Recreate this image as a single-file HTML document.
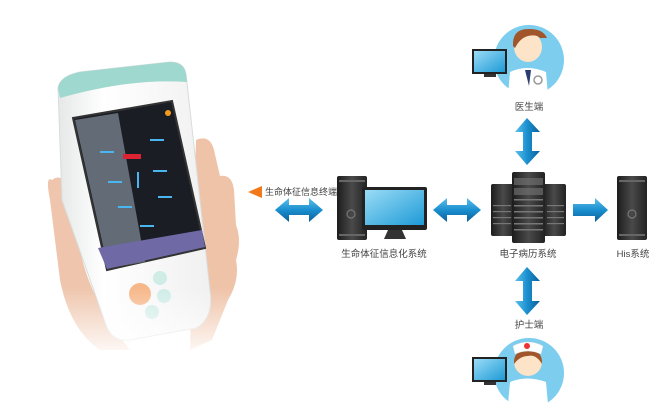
<!DOCTYPE html>
<html><head><meta charset="utf-8"><style>
html,body{margin:0;padding:0;background:#fff;width:656px;height:416px;overflow:hidden}
svg{display:block}
text{font-family:"Liberation Sans","Noto Sans CJK SC",sans-serif;fill:#444;font-size:9.5px}
</style></head><body>
<svg width="656" height="416" viewBox="0 0 656 416" xmlns="http://www.w3.org/2000/svg">
<defs>
<linearGradient id="ag" x1="0" y1="0" x2="0" y2="1"><stop offset="0" stop-color="#5cc0ea"/><stop offset="0.5" stop-color="#1a8fcf"/><stop offset="1" stop-color="#0c5f9a"/></linearGradient>
<linearGradient id="agv" x1="0" y1="0" x2="1" y2="0"><stop offset="0" stop-color="#5cc0ea"/><stop offset="0.5" stop-color="#1a8fcf"/><stop offset="1" stop-color="#0c5f9a"/></linearGradient>
<linearGradient id="tw" x1="0" y1="0" x2="1" y2="0"><stop offset="0" stop-color="#1c1c1c"/><stop offset="0.5" stop-color="#4a4a4a"/><stop offset="1" stop-color="#222"/></linearGradient>
<linearGradient id="scr" x1="0" y1="0" x2="1" y2="1"><stop offset="0" stop-color="#9adcf6"/><stop offset="1" stop-color="#1e9ad6"/></linearGradient>
<linearGradient id="dev" x1="0" y1="0" x2="1" y2="0"><stop offset="0" stop-color="#e6e8e8"/><stop offset="0.3" stop-color="#fff"/><stop offset="1" stop-color="#f0f0f0"/></linearGradient>
<linearGradient id="fade" x1="0" y1="0" x2="0" y2="1"><stop offset="0.4" stop-color="#fff" stop-opacity="0"/><stop offset="1" stop-color="#fff" stop-opacity="1"/></linearGradient>
<clipPath id="cd"><rect x="480" y="0" width="100" height="93"/></clipPath>
<clipPath id="cn"><rect x="480" y="330" width="100" height="73"/></clipPath>
</defs>

<path d="M52,180 Q45,175 50,200 L60,280 Q70,330 100,350 L130,350 Q90,300 80,250 L70,190 Q62,172 52,180 Z" fill="#efc6ad"/>
<path d="M196,140 Q210,134 214,150 L220,176 Q232,174 234,190 L236,225 Q242,240 236,260 Q240,280 228,300 L212,340 L190,350 Z" fill="#efc3a8"/>
<path d="M58,88 Q60,76 80,72 L170,62 Q184,62 186,74 L210,290 Q214,318 196,328 L130,340 Q112,342 106,325 L62,200 Z" fill="url(#dev)" stroke="#d8dcdc" stroke-width="1"/>
<path d="M58,88 Q60,76 80,72 L170,62 Q184,62 186,74 L187,82 Q130,78 60,98 Z" fill="#9fd8cf"/>
<polygon points="73,118 172,101 205,248 107,270" fill="#1a1e24" stroke="#333" stroke-width="2"/>
<polygon points="75,120 118,113 145,262 108,268" fill="#6b7380" opacity="0.9"/>
<polygon points="98,248 202,230 205,247 107,269" fill="#6f6aa6"/>
<g fill="#4ab6f0">
<rect x="150" y="139" width="14" height="2"/><rect x="100" y="151" width="14" height="2"/><rect x="153" y="170" width="14" height="2"/><rect x="108" y="181" width="14" height="2"/><rect x="158" y="196" width="14" height="2"/><rect x="118" y="206" width="14" height="2"/><rect x="140" y="225" width="14" height="2"/><rect x="137" y="172" width="2" height="16"/>
</g>
<rect x="123" y="154" width="18" height="5" fill="#d23"/>
<circle cx="168" cy="113" r="3" fill="#f49b1e"/>
<circle cx="140" cy="294" r="11" fill="#f6b88a"/>
<circle cx="160" cy="278" r="7" fill="#cfece6"/>
<circle cx="164" cy="296" r="7" fill="#cfece6"/>
<circle cx="152" cy="312" r="7" fill="#cfece6"/>
<rect x="0" y="240" width="260" height="120" fill="url(#fade)"/>

<polygon points="248,192 262,186 262,198" fill="#f07a1a"/>
<text x="265" y="195" style="font-size:9px">生命体征信息终端</text>
<g fill="url(#ag)">
<path transform="translate(275,198)" d="M0,12 L14,0 L14,7 L34,7 L34,0 L48,12 L34,24 L34,17 L14,17 L14,24 Z"/>
<path transform="translate(433,198)" d="M0,12 L14,0 L14,7 L34,7 L34,0 L48,12 L34,24 L34,17 L14,17 L14,24 Z"/>
<path transform="translate(573,198)" d="M0,6 L22,6 L22,0 L35,12 L22,24 L22,18 L0,18 Z"/>
</g>
<g fill="url(#agv)">
<path transform="translate(515,118)" d="M12,0 L25,14 L17,14 L17,33 L25,33 L12,47 L0,33 L8,33 L8,14 L0,14 Z"/>
<path transform="translate(515,267)" d="M12,0 L25,14 L17,14 L17,34 L25,34 L12,48 L0,34 L8,34 L8,14 L0,14 Z"/>
</g>

<rect x="337" y="176" width="30" height="64" rx="2" fill="url(#tw)"/>
<rect x="339" y="180" width="26" height="2" fill="#666"/><rect x="339" y="234" width="26" height="2" fill="#666"/>
<circle cx="351" cy="214" r="4" fill="none" stroke="#777" stroke-width="1.2"/>
<rect x="362" y="187" width="65" height="43" rx="2" fill="#222"/>
<rect x="365" y="190" width="59" height="35" fill="url(#scr)"/>
<polygon points="388,230 402,230 406,239 384,239" fill="#333"/>
<text x="384" y="257" text-anchor="middle">生命体征信息化系统</text>

<rect x="491" y="184" width="24" height="52" rx="2" fill="url(#tw)"/>
<rect x="542" y="184" width="24" height="52" rx="2" fill="url(#tw)"/>
<rect x="512" y="172" width="33" height="71" rx="2" fill="url(#tw)"/>
<g fill="#777">
<rect x="514" y="178" width="29" height="7" opacity="0.6"/><rect x="514" y="188" width="29" height="7" opacity="0.6"/>
<rect x="514" y="199" width="29" height="1.5"/><rect x="514" y="205" width="29" height="1.5"/><rect x="514" y="211" width="29" height="1.5"/><rect x="514" y="217" width="29" height="1.5"/><rect x="514" y="223" width="29" height="1.5"/><rect x="514" y="229" width="29" height="1.5"/>
<rect x="493" y="205" width="18" height="1.2"/><rect x="493" y="211" width="18" height="1.2"/><rect x="493" y="217" width="18" height="1.2"/><rect x="493" y="223" width="18" height="1.2"/>
<rect x="547" y="205" width="17" height="1.2"/><rect x="547" y="211" width="17" height="1.2"/><rect x="547" y="217" width="17" height="1.2"/><rect x="547" y="223" width="17" height="1.2"/>
</g>
<text x="528" y="257" text-anchor="middle">电子病历系统</text>

<rect x="617" y="176" width="30" height="64" rx="2" fill="url(#tw)"/>
<rect x="619" y="180" width="26" height="2" fill="#666"/><rect x="619" y="234" width="26" height="2" fill="#666"/>
<circle cx="632" cy="214" r="4" fill="none" stroke="#777" stroke-width="1.2"/>
<text x="633" y="257" text-anchor="middle">His系统</text>

<g clip-path="url(#cd)">
<circle cx="529" cy="60" r="35" fill="#7ccdee"/>
<path d="M508,95 L510,72 Q527,64 546,72 L548,95 Z" fill="#fff"/>
<polygon points="525,70 531,70 529,86" fill="#2a3d6e"/>
<ellipse cx="528" cy="47" rx="14" ry="15" fill="#fde3c8"/>
<path d="M513,46 Q512,28 530,29 Q543,29 547,38 L540,38 Q536,34 528,36 Q520,38 515,48 Z" fill="#a0562a"/>
<circle cx="538" cy="80" r="4" fill="none" stroke="#999" stroke-width="1.5"/>
</g>
<rect x="472" y="49" width="35" height="25" fill="#222"/>
<rect x="474" y="51" width="31" height="21" fill="url(#scr)"/>
<rect x="484" y="74" width="12" height="3" fill="#333"/>
<text x="529" y="110" text-anchor="middle">医生端</text>

<g clip-path="url(#cn)">
<circle cx="529" cy="373" r="35" fill="#7ccdee"/>
<path d="M508,404 L510,382 Q527,375 546,382 L548,404 Z" fill="#fff"/>
<ellipse cx="528" cy="362" rx="14" ry="14" fill="#fde3c8"/>
<path d="M514,364 Q513,350 528,350 Q543,350 542,364 Q536,354 528,356 Q520,356 514,364 Z" fill="#a0562a"/>
<path d="M513,346 Q528,338 543,346 L541,354 Q528,348 515,354 Z" fill="#fff" stroke="#ddd" stroke-width="0.5"/>
<circle cx="527" cy="346" r="3" fill="#e33"/>
</g>
<rect x="472" y="357" width="35" height="25" fill="#222"/>
<rect x="474" y="359" width="31" height="21" fill="url(#scr)"/>
<rect x="484" y="382" width="12" height="3" fill="#333"/>
<text x="529" y="328" text-anchor="middle">护士端</text>
</svg>
</body></html>
